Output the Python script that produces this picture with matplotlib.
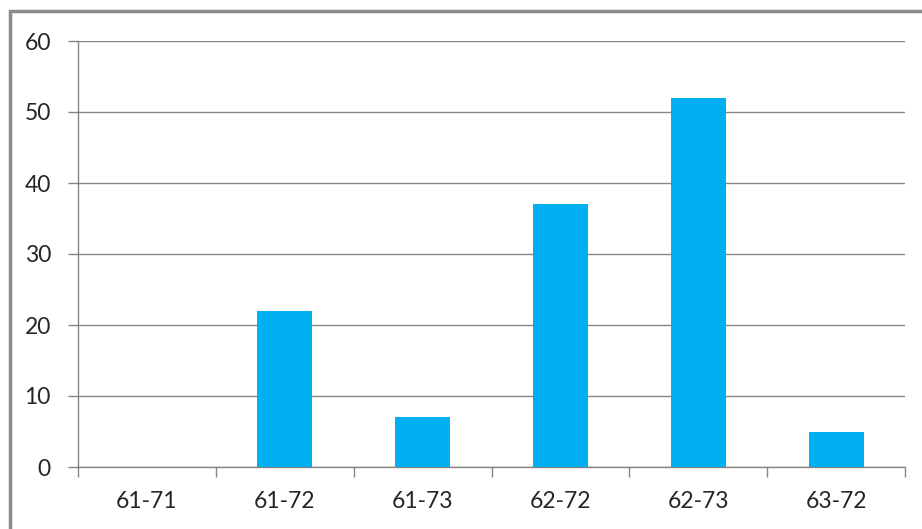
import matplotlib.pyplot as plt
from matplotlib.patches import Rectangle

categories = ["61-71", "61-72", "61-73", "62-72", "62-73", "63-72"]
values = [0, 22, 7, 37, 52, 5]

plt.rcParams['font.family'] = ['Lato', 'DejaVu Sans']

fig = plt.figure(figsize=(9.22, 5.29), dpi=100)
ax = fig.add_axes([78 / 922, 62 / 529, 827 / 922, 426 / 529])

x = list(range(len(categories)))
ax.bar(x, values, width=0.4, color="#00B0F0", zorder=3)

ax.set_xlim(-0.5, len(categories) - 0.5)
ax.set_ylim(0, 60)
ax.set_yticks(range(0, 61, 10))
ax.set_xticks([i - 0.5 for i in range(len(categories) + 1)], minor=False)
ax.set_xticklabels([])
ax.set_xticks(x, minor=True)
ax.set_xticklabels(categories, minor=True)
ax.tick_params(axis="x", which="major", length=7, color="#868686", width=1)
ax.tick_params(axis="x", which="minor", length=0, labelsize=16.5, pad=17.5, colors="#262626")
ax.tick_params(axis="y", length=7, color="#868686", width=1, labelsize=16.5, pad=12.5, labelcolor="#262626")

ax.grid(axis="y", color="#868686", linewidth=1, zorder=0)
for side in ["top", "right"]:
    ax.spines[side].set_visible(False)
for side in ["left", "bottom"]:
    ax.spines[side].set_color("#868686")
    ax.spines[side].set_linewidth(1)

fig.patches.append(Rectangle((10 / 922, -0.05), 1.0, (529 - 11) / 529 + 0.05,
                             transform=fig.transFigure, fill=False,
                             edgecolor="#8c8c8c", linewidth=2.5))

fig.savefig("out.png", dpi=100)
